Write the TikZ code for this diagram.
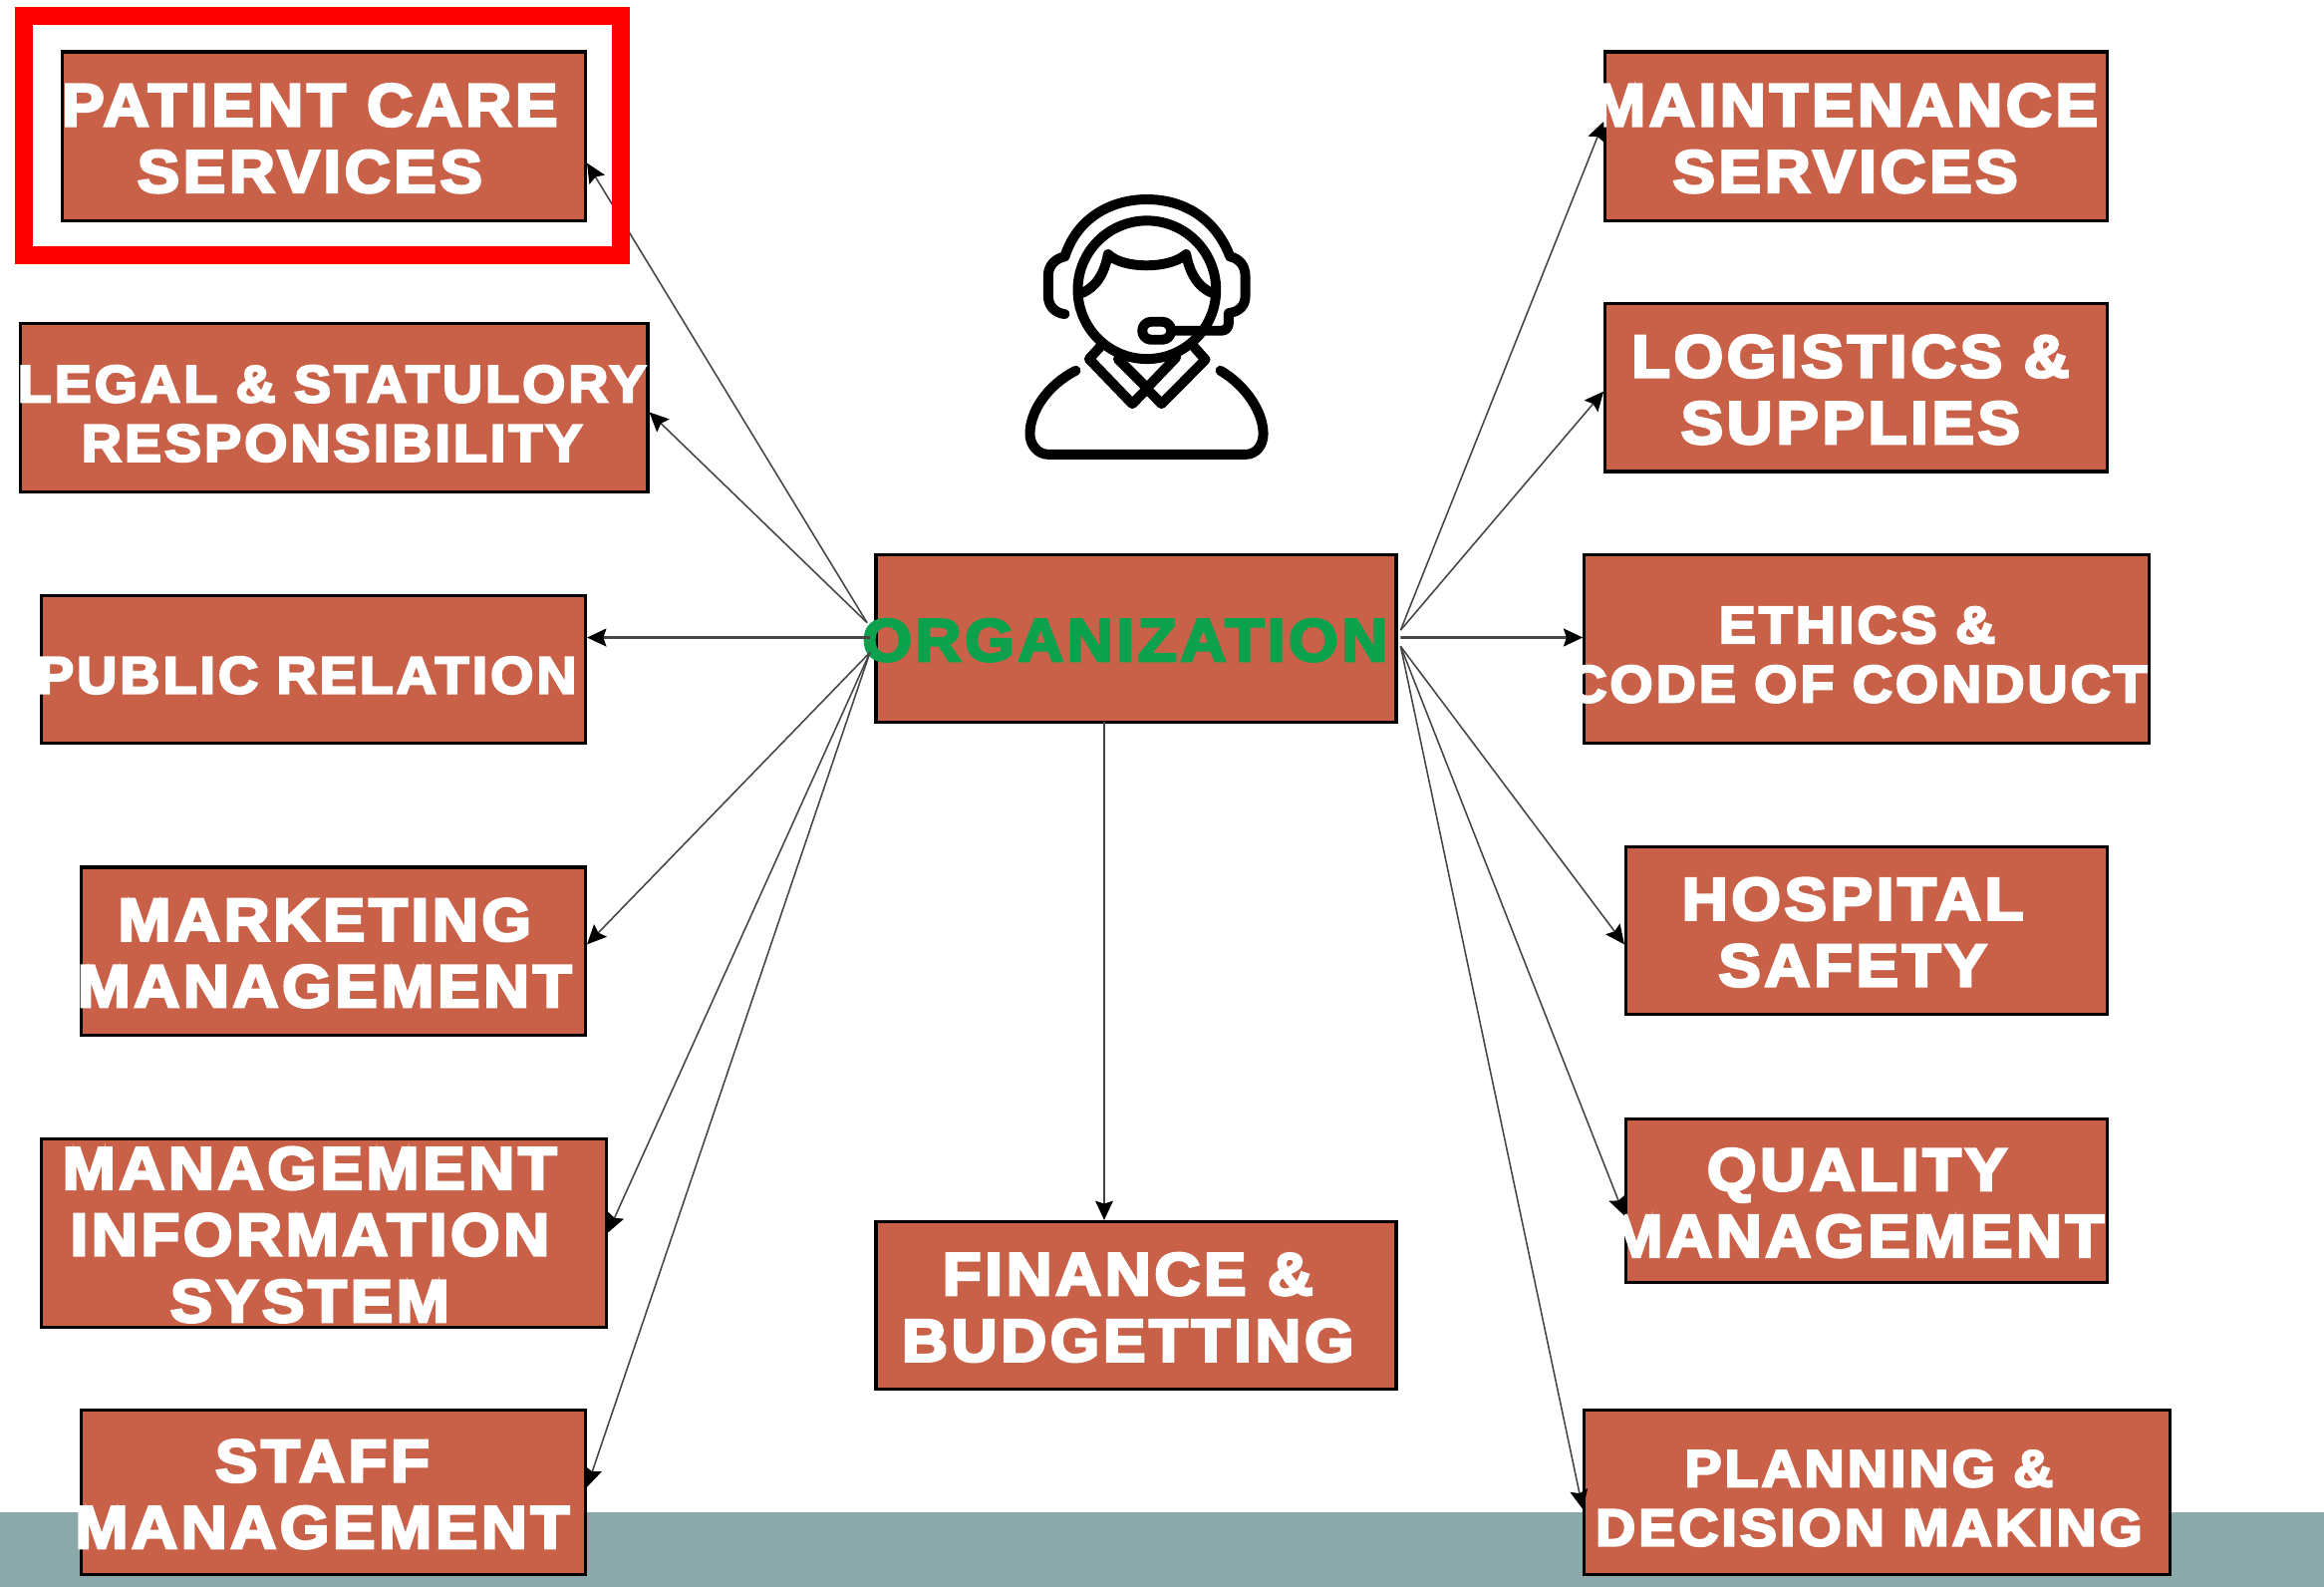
\documentclass[tikz,border=0pt]{standalone}
\usepackage{fontspec}
\setmainfont{Liberation Sans}
\newfontfamily\boxfont[LetterSpace=6,FakeBold=4.5,FakeStretch=1.06,UprightFont=* Bold]{Liberation Sans}
\usetikzlibrary{arrows.meta, positioning, calc}
\definecolor{boxcolor}{RGB}{201, 97, 72}
\definecolor{orgtextcolor}{RGB}{11, 161, 77}
\definecolor{bandcolor}{RGB}{138, 169, 168}
\definecolor{linkcolor}{RGB}{70, 70, 70}
% label sits slightly off the middle of its box
\newcommand{\boxtext}[2]{\raisebox{-9.8pt}[0pt][0pt]{\makebox[0pt]{\kern#1mm\begin{tabular}{@{}c@{}}#2\end{tabular}\kern-#1mm}}}
\tikzset{
    % Boxes
    basebox/.style 2 args={
        draw=black, line width=1.2pt, fill=boxcolor, inner sep=0pt,
        minimum width=#1*0.02cm, minimum height=#2*0.02cm,
        text=white
    },
    unitbox/.style 2 args={basebox={#1}{#2}, font=\boxfont\fontsize{23}{25.5}\selectfont},
    smallbox/.style 2 args={basebox={#1}{#2}, font=\boxfont\fontsize{20}{22.7}\selectfont},
    % Arrows
    link/.style={-{Stealth[length=2.6mm,width=2.4mm,inset=0.4mm,color=black]}, line width=0.6pt, linkcolor},
    widelink/.style={link, line width=1pt},
    % Icon
    iconline/.style={line width=3.8pt, line cap=round, line join=round, black},
}
\begin{document}
\begin{tikzpicture}[x=0.02cm, y=-0.02cm]
\useasboundingbox (0,0) rectangle (1568,1070.5);

% Bottom band
\fill[bandcolor] (0,1020) rectangle (1568,1070.5);

% Left column
\node (patient) [unitbox={353}{114}] at (218.5,92) {\boxtext{-1.9}{PATIENT CARE\\SERVICES}};
\node (legal) [smallbox={423}{114}] at (225.5,275) {\boxtext{-0.3}{LEGAL \& STATULORY\\RESPONSIBILITY}};
\node (public) [smallbox={367}{99}] at (211.5,451.5) {\boxtext{-0.9}{PUBLIC RELATION}};
\node (marketing) [unitbox={340}{113}] at (225,641.5) {\boxtext{-1.2}{MARKETING\\MANAGEMENT}};
\node (mis) [unitbox={381}{127}] at (218.5,831.5) {\boxtext{-1.9}{MANAGEMENT\\INFORMATION\\SYSTEM}};
\node (staff) [unitbox={340}{111}] at (225,1006.5) {\boxtext{-1.5}{STAFF\\MANAGEMENT}};

% Centre column
\node (org) [unitbox={351}{113}, text=orgtextcolor] at (766.5,430.5) {\boxtext{-1.5}{ORGANIZATION}};
\node (finance) [unitbox={351}{113}] at (766.5,880.5) {\boxtext{-1.1}{FINANCE \&\\BUDGETTING}};

% Right column
\node (maintenance) [unitbox={339}{114}] at (1252.5,92) {\boxtext{-1.5}{MAINTENANCE\\SERVICES}};
\node (logistics) [unitbox={339}{113}] at (1252.5,261.5) {\boxtext{-0.8}{LOGISTICS \&\\SUPPLIES}};
\node (ethics) [smallbox={381}{127}] at (1259.5,437.5) {\boxtext{-1.3}{ETHICS \&\\CODE OF CONDUCT}};
\node (hospital) [unitbox={325}{113}] at (1259.5,627.5) {\boxtext{-1.9}{HOSPITAL\\SAFETY}};
\node (quality) [unitbox={325}{110}] at (1259.5,810) {\boxtext{-1.3}{QUALITY\\MANAGEMENT}};
\node (planning) [smallbox={395}{111}] at (1266.5,1006.5) {\boxtext{-1.1}{PLANNING \&\\DECISION MAKING}};

% Arrows
\coordinate (orgnw) at (585,420);
\coordinate (orgw) at (587,430);
\coordinate (orgsw) at (587,440);
\coordinate (orgne) at (945,425);
\coordinate (orge) at (945,430);
\coordinate (orgse) at (945,436);
\coordinate (orgsouth) at (745,487);
\draw[link] (orgnw) -- ([yshift=-0.36cm]patient.east);
\draw[link] (orgnw) -- ([yshift=-0.06cm]legal.east);
\draw[widelink] (orgw) -- ([yshift=0.43cm]public.east);
\draw[link] (orgsw) -- ([yshift=0.09cm]marketing.east);
\draw[link] (orgsw) -- (mis.east);
\draw[link] (orgsw) -- ([yshift=0.07cm]staff.east);
\draw[link] (orgne) -- ([yshift=0.2cm]maintenance.west);
\draw[link] (orgne) -- ([yshift=-0.05cm]logistics.west);
\draw[widelink] (orge) -- ([yshift=0.15cm]ethics.west);
\draw[link] (orgse) -- ([yshift=-0.19cm]hospital.west);
\draw[link] (orgse) -- ([yshift=-0.2cm]quality.west);
\draw[link] (orgse) -- ([yshift=-0.23cm]planning.west);
\draw[link] (orgsouth) -- (orgsouth |- finance.north);

% Highlight frame
\draw[red, line width=0.24cm] (16,11) rectangle (419,172);

% Headset icon
\begin{scope}[shift={(659,114.3)}, x=0.004483cm, y=-0.004483cm]
\draw[iconline] (512,362) circle (208);
\draw[iconline] (265,435) .. controls (235,432) and (215,410) .. (215,380) -- (215,320)
    .. controls (215,290) and (235,268) .. (265,262)
    .. controls (300,150) and (400,90) .. (512,90)
    .. controls (625,90) and (720,150) .. (762,262)
    .. controls (790,268) and (808,290) .. (808,320) -- (808,380)
    .. controls (808,410) and (790,428) .. (758,432) -- (758,460)
    .. controls (758,475) and (750,485) .. (735,485) -- (590,485);
\draw[iconline, rounded corners=0.12cm] (498,458) rectangle (585,512);
\draw[iconline] (315,372) .. controls (360,355) and (385,310) .. (395,255)
    .. controls (440,300) and (580,300) .. (630,255)
    .. controls (640,310) and (665,355) .. (710,372);
\draw[iconline] (370,535) -- (338,570) -- (468,705) -- (512,660) -- (556,705) -- (688,572) -- (655,535);
\draw[iconline] (425,570) -- (512,657) -- (600,565);
\draw[iconline] (298,605) .. controls (210,650) and (160,730) .. (160,795)
    .. controls (160,830) and (185,857) .. (215,857) -- (810,857)
    .. controls (840,857) and (862,830) .. (862,795)
    .. controls (862,730) and (810,650) .. (733,605);
\end{scope}

\end{tikzpicture}
\end{document}
